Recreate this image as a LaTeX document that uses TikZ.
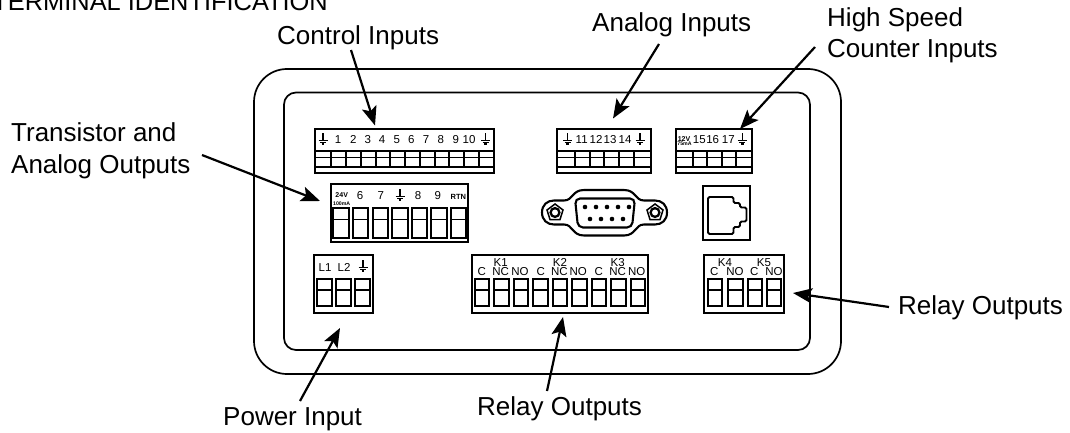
\documentclass[tikz,border=0pt]{standalone}
\usepackage{fontspec}
\setmainfont{Liberation Sans}
\usetikzlibrary{arrows.meta}
\tikzset{
  panel/.style={draw=black,line width=1.7pt},
  tbox/.style={draw=black,line width=1.7pt},
  cellbox/.style={draw=black,line width=2pt},
  thinline/.style={draw=black,line width=1.3pt},
  biglabel/.style={anchor=base west,inner sep=0pt,font=\fontsize{26}{30}\selectfont},
  termlabel/.style={anchor=base,inner sep=0pt,font=\fontsize{11.5}{12}\selectfont},
  tinylabel/.style={anchor=base,inner sep=0pt,font=\bfseries\fontsize{7}{7}\selectfont},
  microlabel/.style={anchor=base,inner sep=0pt,font=\bfseries\fontsize{5.2}{6}\selectfont},
  callout/.style={draw=black,line width=2.2pt,-{Stealth[length=19pt,width=15pt,inset=4pt]}}
}
% ground symbol: stem top at (#1,#2)
\newcommand{\gndsym}[2]{%
  \draw[line width=1.3pt] (#1,#2) -- (#1,#2+7.5);
  \draw[line width=1.3pt] (#1-4.5,#2+7.5) -- (#1+4.5,#2+7.5);
  \draw[line width=1.2pt] (#1-3,#2+9.5) -- (#1+3,#2+9.5);
  \draw[line width=1.1pt] (#1-1.3,#2+11) -- (#1+1.3,#2+11);
}
% vertical terminal cell: x, width, top, mid, bottom
\newcommand{\vcell}[5]{%
  \draw[cellbox] (#1,#3) rectangle (#1+#2,#5);
  \draw[thinline] (#1,#4) -- (#1+#2,#4);
}
% strip terminal: left, right, x of first cell, pitch, count
\newcommand{\strip}[5]{%
  \draw[tbox] (#1,129) rectangle (#2,173);
  \draw[line width=2.2pt] (#1,151.3) -- (#2,151.3);
  \draw[line width=1.5pt] (#1,157.7) -- (#2,157.7);
  \draw[line width=2.2pt] (#1,167) -- (#2,167);
  \foreach \i in {1,...,#5}{\draw[line width=2pt] ({#3+\i*#4},151.3) -- ({#3+\i*#4},167);}
}
\begin{document}
\begin{tikzpicture}[x=1pt,y=-1pt]
\useasboundingbox (0,0) rectangle (1070,433);
% housing
\draw[panel] (254,69) [rounded corners=33pt] rectangle (841,374);
\draw[panel] (284,92.5) [rounded corners=12pt] rectangle (810,350);
% top strips
\strip{315}{494}{316.7}{14.75}{11}
\strip{557.3}{650.7}{560.6}{14.6}{5}
\strip{675.7}{752.3}{678.3}{14.4}{4}
\gndsym{323}{133}
\gndsym{485.7}{133}
\gndsym{567.7}{133}
\gndsym{640}{133}
\gndsym{742.3}{133}
\foreach \n/\x in {1/338,2/353.3,3/367.7,4/382,5/396.7,6/411.3,7/426,8/440.7,9/455.7,10/469}
  \node[termlabel] (ci\n) at (\x,143.5) {\n};
\foreach \n/\x in {11/581.7,12/596,13/610,14/625}
  \node[termlabel] (ai\n) at (\x,143.5) {\n};
\foreach \n/\x in {15/699.3,16/712.7,17/728.3}
  \node[termlabel] (hs\n) at (\x,143.5) {\n};
\node[tinylabel] (hsa) at (684,141) {12V};
\node[microlabel] (hsb) at (684.5,146) {75mA};
% transistor block
\draw[tbox] (331,184) rectangle (468,242);
\foreach \i in {0,...,6}{\vcell{333.3+\i*19.6}{15.5}{208.3}{219.3}{238}}
\node[tinylabel] (toa) at (341.7,197.5) {24V};
\node[microlabel] (tob) at (341.7,205) {100mA};
\node[termlabel] (to6) at (360,199) {6};
\node[termlabel] (to7) at (380.7,199) {7};
\gndsym{400}{189}
\node[termlabel] (to8) at (418,199) {8};
\node[termlabel] (to9) at (437.7,199) {9};
\node[tinylabel,font=\bfseries\fontsize{7.5}{8}\selectfont] (tortn) at (458.3,199) {RTN};
% DB9
\draw[line width=2.1pt] (542,212.5)
  .. controls (542,205) and (547,200.5) .. (554,200.5) -- (564,200.5)
  .. controls (573,200.5) and (572,190) .. (584,190) -- (624,190)
  .. controls (636,190) and (635,200.5) .. (644,200.5) -- (655,200.5)
  .. controls (662,200.5) and (667,205) .. (667,212.5)
  .. controls (667,220) and (662,224.5) .. (655,224.5) -- (644,224.5)
  .. controls (635,224.5) and (636,235.5) .. (624,235.5) -- (584,235.5)
  .. controls (572,235.5) and (573,224.5) .. (564,224.5) -- (554,224.5)
  .. controls (547,224.5) and (542,220) .. (542,212.5) -- cycle;
\draw[line width=2.1pt,rounded corners=5pt] (575,198.5) -- (635,198.5) -- (632,227.5) -- (578,227.5) -- cycle;
\foreach \x in {585,596,607,618,629}{\fill (\x,207) circle (2.3pt);}
\foreach \x in {590,601,612,623}{\fill (\x,219) circle (2.3pt);}
\foreach \x in {555,655}{
  \draw[line width=1.5pt,fill=white] (\x,204) -- (\x+8,210) -- (\x+5,219.5) -- (\x-5,219.5) -- (\x-8,210) -- cycle;
  \draw[line width=2.3pt,fill=white] (\x,212.5) circle (4.4pt);
}
% RJ jack
\draw[line width=1.8pt] (703,186) rectangle (750,240);
\draw[line width=1.8pt,rounded corners=1.5pt] (708,197) -- (733.5,197) -- (733.5,203) -- (740,203) -- (740,207.5) -- (746.5,207.5) -- (746.5,221.5) -- (740,221.5) -- (740,227) -- (733.5,227) -- (733.5,234) -- (708,234) -- cycle;
% power block
\draw[tbox] (314,255) rectangle (373,313);
\foreach \x in {316.5,336,355}{\vcell{\x}{15}{279}{290}{306}}
\node[termlabel] (pl1) at (325,271.7) {L1};
\node[termlabel] (pl2) at (344,271.7) {L2};
\gndsym{363}{260}
% K1-K3
\draw[tbox] (472,255) rectangle (648,313);
\foreach \i in {0,...,8}{\vcell{474.5+\i*19.5}{14.5}{279}{290}{306}}
\foreach \n/\x/\t in {a/481.7/C,b/500.7/NC,c/520/NO,d/540.7/C,e/559.3/NC,f/578.3/NO,g/598.7/C,h/617.7/NC,i/636.7/NO}
  \node[termlabel] (r\n) at (\x,275.7) {\t};
\node[termlabel] (k1) at (500.7,266) {K1};
\node[termlabel] (k2) at (560,266) {K2};
\node[termlabel] (k3) at (617.7,266) {K3};
% K4-K5
\draw[tbox] (704,255) rectangle (784,313);
\foreach \x in {707.5,728,747.5,766.5}{\vcell{\x}{14.5}{279}{290}{306}}
\foreach \n/\x/\t in {a/714.3/C,b/735/NO,c/754.3/C,d/774/NO}
  \node[termlabel] (s\n) at (\x,275.7) {\t};
\node[termlabel] (k4) at (725,266) {K4};
\node[termlabel] (k5) at (764,266) {K5};
% labels
\node[anchor=base east,inner sep=0pt,font=\fontsize{25.4}{30}\selectfont] (title) at (328,11) {TERMINAL IDENTIFICATION};
\node[biglabel] (lci) at (277,45) {Control Inputs};
\node[biglabel] (lai) at (592,32) {Analog Inputs};
\node[biglabel] (lhs1) at (827,27) {High Speed};
\node[biglabel] (lhs2) at (827,58) {Counter Inputs};
\node[biglabel] (lto1) at (11,142) {Transistor and};
\node[biglabel] (lto2) at (11,173) {Analog Outputs};
\node[biglabel] (lrr) at (898,314) {Relay Outputs};
\node[biglabel] (lpi) at (223,425) {Power Input};
\node[biglabel] (lrb) at (477,415) {Relay Outputs};
% arrows
\coordinate (a1s) at (351,50);  \coordinate (a1e) at (375,125.5);
\coordinate (a2s) at (659,44);  \coordinate (a2e) at (613,118.5);
\coordinate (a3s) at (815,47);  \coordinate (a3e) at (740,129);
\coordinate (a4s) at (202,155); \coordinate (a4e) at (320,201);
\coordinate (a5s) at (889,307); \coordinate (a5e) at (793,293);
\coordinate (a6s) at (300,401); \coordinate (a6e) at (340,328);
\coordinate (a7s) at (547,391); \coordinate (a7e) at (563,317);
\foreach \k in {1,...,7}{\draw[callout] (a\k s) -- (a\k e);}
\end{tikzpicture}
\end{document}
